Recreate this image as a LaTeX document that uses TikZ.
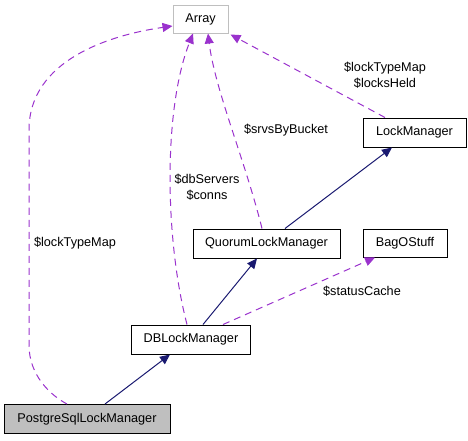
\documentclass[tikz,border=0pt]{standalone}
\usepackage{fontspec}
\setmainfont{Liberation Sans}
\usetikzlibrary{arrows.meta}
\definecolor{dep}{HTML}{9A32CD}
\definecolor{inh}{HTML}{191970}
\definecolor{boxgray}{HTML}{BFBFBF}
\tikzset{
  cls/.style={draw=black, line width=1pt, fill=white, inner sep=0pt, minimum height=29pt, font=\fontsize{12.7}{14}\selectfont},
  usage/.style={draw=dep, line width=1pt, dash pattern=on 7pt off 5pt, -{Triangle[length=10pt,width=9pt]}, fill=none},
  inherit/.style={draw=inh, line width=1pt, -{Triangle[length=10pt,width=9pt]}},
  lbl/.style={font=\fontsize{12.7}{16}\selectfont, align=center, inner sep=0pt, text=black}
}
\begin{document}
\begin{tikzpicture}[x=1pt,y=-1pt]
\useasboundingbox (0,0) rectangle (468,440);
\node[cls, draw=boxgray, minimum width=55pt, minimum height=28pt] (array) at (200.5,19) {Array};
\node[cls, fill=boxgray, minimum width=166pt] (pg) at (87,419) {PostgreSqlLockManager};
\node[cls, minimum width=103pt] (lm) at (414.5,132.5) {LockManager};
\node[cls, minimum width=147pt] (q) at (266.5,243.5) {QuorumLockManager};
\node[cls, minimum width=84pt, minimum height=28pt] (bag) at (405,243) {BagOStuff};
\node[cls, minimum width=119pt] (db) at (191,339.5) {DBLockManager};

% inheritance
\draw[inherit, -{Triangle[length=10pt,width=9pt,fill=inh]}] ([xshift=18pt]pg.north) -- ([xshift=-21pt]db.south);
\draw[inherit, -{Triangle[length=10pt,width=9pt,fill=inh]}] ([xshift=12pt]db.north) -- ([xshift=-9.5pt]q.south);
\draw[inherit, -{Triangle[length=10pt,width=9pt,fill=inh]}] ([xshift=18.5pt]q.north) -- ([xshift=-22.5pt]lm.south);

% usage
\draw[usage, -{Triangle[length=10pt,width=9pt,fill=dep]}] ([xshift=-20pt]pg.north) .. controls (50,395) and (29,375) .. (29,345)
  -- (29,130) .. controls (29,60) and (110,35) .. ([yshift=-7pt]array.west);
\draw[usage, -{Triangle[length=10pt,width=9pt,fill=dep]}] ([xshift=-4pt]db.north) .. controls (165,240) and (163,110) .. ([xshift=-7.5pt]array.south);
\draw[usage, -{Triangle[length=10pt,width=9pt,fill=dep]}] ([xshift=-4.5pt]q.north) .. controls (245,160) and (215,90) .. ([xshift=7.5pt]array.south);
\draw[usage, -{Triangle[length=10pt,width=9pt,fill=dep]}] ([xshift=-29.5pt]lm.north) -- ([xshift=2pt,yshift=-1pt]array.south east);
\draw[usage, -{Triangle[length=10pt,width=9pt,fill=dep]}] ([xshift=32pt]db.north) -- ([xshift=-30pt]bag.south);

% labels
\node[lbl] (l1) at (75,243) {\$lockTypeMap};
\node[lbl] (l2) at (207,187) {\$dbServers\\\$conns};
\node[lbl] (l3) at (286,130) {\$srvsByBucket};
\node[lbl] (l4) at (385,75) {\$lockTypeMap\\\$locksHeld};
\node[lbl] (l5) at (362,291) {\$statusCache};
\end{tikzpicture}
\end{document}
